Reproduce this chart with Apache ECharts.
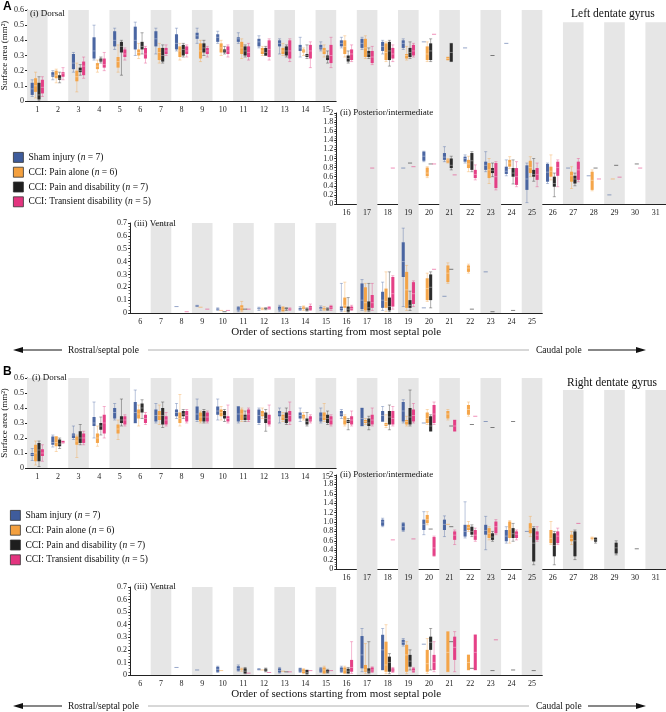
<!DOCTYPE html>
<html>
<head>
<meta charset="utf-8">
<script src="https://cdn.jsdelivr.net/npm/echarts@6/dist/echarts.min.js"></script>
<style>
  html, body { margin: 0; background: #fff; }
  #chart { width: 666px; height: 712px; }
</style>
</head>
<body>
<div id="chart"></div>
<script>
const GROUPS = [
  'Sham injury (n = 7)',
  'CCI: Pain alone (n = 6)',
  'CCI: Pain and disability (n = 7)',
  'CCI: Transient disability (n = 5)'
];
const COLORS = ['#3f5c9c', '#f4a03e', '#1e1e1e', '#e3347f'];
const FONT = 'Liberation Serif';

// section labels
const DORSAL_SECTIONS = ['1','2','3','4','5','6','7','8','9','10','11','12','13','14','15','16','17','18','19','20','21','22','23','24','25','26','27','28','29','30','31'];
const DORSAL_AXIS_SECTIONS = ['1','2','3','4','5','6','7','8','9','10','11','12','13','14','15'];
const POST_SECTIONS = ['16','17','18','19','20','21','22','23','24','25','26','27','28','29','30','31'];
const VENT_SECTIONS = ['6','7','8','9','10','11','12','13','14','15','16','17','18','19','20','21','22','23','24','25'];
const SHADED = [1,3,5,7,9,11,13,15,17,19,21,23,25,27,29,31];

// [section, min, q1, median, q3, max]  or  [section, value] for a single animal
// ---- A: left dentate gyrus ----
const dorsalA_sham = [[1,0.03,0.04,0.08,0.12,0.14],[2,0.14,0.16,0.17,0.19,0.20],[3,0.19,0.21,0.25,0.31,0.32],[4,0.27,0.28,0.33,0.42,0.50],[5,0.34,0.36,0.40,0.46,0.48],[6,0.30,0.34,0.40,0.49,0.52],[7,0.31,0.36,0.41,0.46,0.48],[8,0.33,0.34,0.38,0.44,0.48],[9,0.38,0.41,0.43,0.45,0.48],[10,0.38,0.39,0.42,0.44,0.46],[11,0.38,0.39,0.41,0.42,0.45],[12,0.35,0.36,0.39,0.41,0.43],[13,0.31,0.36,0.38,0.40,0.41],[14,0.29,0.33,0.35,0.37,0.42],[15,0.33,0.34,0.35,0.37,0.39],[16,0.35,0.36,0.38,0.40,0.42],[17,0.34,0.35,0.38,0.41,0.42],[18,0.31,0.33,0.36,0.39,0.40],[19,0.34,0.35,0.38,0.40,0.41],[20,0.39],[22,0.35],[24,0.38]];
const dorsalA_pain = [[1,0.02,0.06,0.10,0.15,0.19],[2,0.12,0.15,0.17,0.20,0.21],[3,0.06,0.13,0.16,0.20,0.25],[4,0.19,0.21,0.23,0.25,0.27],[5,0.19,0.22,0.26,0.29,0.37],[6,0.28,0.30,0.32,0.34,0.38],[7,0.25,0.27,0.32,0.35,0.38],[8,0.27,0.29,0.33,0.36,0.38],[9,0.26,0.28,0.33,0.38,0.40],[10,0.30,0.32,0.35,0.38,0.40],[11,0.28,0.31,0.35,0.39,0.41],[12,0.30,0.31,0.33,0.35,0.36],[13,0.30,0.31,0.33,0.35,0.38],[14,0.30,0.32,0.33,0.34,0.35],[15,0.29,0.31,0.33,0.35,0.37],[16,0.29,0.31,0.36,0.40,0.43],[17,0.28,0.29,0.35,0.41,0.43],[18,0.26,0.27,0.32,0.38,0.39],[19,0.27,0.28,0.30,0.31,0.36],[20,0.26,0.27,0.31,0.36,0.39],[21,0.27,0.27,0.28,0.29,0.29]];
const dorsalA_dis = [[1,0.0,0.01,0.04,0.12,0.16],[2,0.12,0.14,0.15,0.17,0.19],[3,0.17,0.19,0.20,0.22,0.24],[4,0.25,0.26,0.27,0.28,0.29],[5,0.17,0.32,0.36,0.39,0.40],[6,0.31,0.34,0.36,0.39,0.45],[7,0.25,0.26,0.30,0.35,0.37],[8,0.29,0.30,0.34,0.37,0.38],[9,0.30,0.32,0.35,0.38,0.40],[10,0.31,0.32,0.33,0.34,0.36],[11,0.29,0.30,0.33,0.36,0.37],[12,0.30,0.30,0.32,0.35,0.36],[13,0.29,0.30,0.33,0.36,0.37],[14,0.28,0.29,0.30,0.31,0.37],[15,0.25,0.27,0.29,0.30,0.33],[16,0.25,0.26,0.28,0.30,0.33],[17,0.28,0.29,0.31,0.33,0.35],[18,0.23,0.27,0.33,0.39,0.40],[19,0.28,0.29,0.32,0.35,0.39],[20,0.26,0.27,0.33,0.38,0.41],[21,0.26,0.26,0.32,0.38,0.38],[23,0.30]];
const dorsalA_trans = [[1,0.03,0.05,0.09,0.14,0.16],[2,0.14,0.16,0.18,0.19,0.22],[3,0.15,0.17,0.23,0.26,0.29],[4,0.20,0.22,0.24,0.28,0.32],[5,0.27,0.29,0.31,0.34,0.35],[6,0.25,0.28,0.31,0.35,0.36],[7,0.30,0.31,0.33,0.35,0.37],[8,0.29,0.31,0.33,0.36,0.37],[9,0.29,0.31,0.33,0.35,0.36],[10,0.29,0.31,0.33,0.36,0.37],[11,0.27,0.29,0.32,0.36,0.38],[12,0.27,0.29,0.34,0.40,0.41],[13,0.26,0.28,0.33,0.40,0.41],[14,0.22,0.28,0.33,0.37,0.39],[15,0.22,0.25,0.30,0.37,0.42],[16,0.26,0.27,0.31,0.34,0.37],[17,0.24,0.25,0.29,0.33,0.36],[18,0.26,0.28,0.31,0.35,0.37],[19,0.29,0.30,0.33,0.37,0.38],[20,0.44]];

const postA_sham = [[19,0.79],[20,0.93,0.95,1.05,1.15,1.16],[21,0.93,0.97,1.03,1.12,1.26],[22,0.90,0.93,1.0,1.04,1.08],[23,0.71,0.75,0.85,0.93,1.15],[24,0.62,0.66,0.72,0.82,0.97],[25,0.03,0.31,0.55,0.85,0.90],[26,0.45,0.49,0.70,0.88,0.90],[27,0.79],[28,0.62],[29,0.20]];
const postA_pain = [[20,0.58,0.61,0.68,0.80,0.82],[21,0.90,0.91,0.95,0.98,1.0],[22,0.71,0.79,0.88,0.97,1.05],[23,0.45,0.57,0.75,0.90,1.0],[24,0.78,0.82,0.90,0.97,1.04],[25,0.60,0.68,0.80,0.95,1.04],[26,0.53,0.60,0.72,0.82,1.08],[27,0.34,0.49,0.62,0.71,0.82],[28,0.29,0.31,0.52,0.71,0.75],[29,0.55]];
const postA_dis = [[19,0.90],[20,0.88],[21,0.75,0.79,0.85,1.0,1.05],[22,0.71,0.75,0.95,1.12,1.15],[23,0.60,0.68,0.74,0.79,0.90],[24,0.44,0.60,0.68,0.79,0.97],[25,0.50,0.60,0.65,0.75,1.0],[26,0.16,0.38,0.45,0.60,0.68],[27,0.40,0.45,0.55,0.62,0.68],[28,0.79],[29,0.85],[30,0.88]];
const postA_trans = [[17,0.79],[18,0.79],[19,0.82],[20,0.88],[21,0.64],[22,0.53,0.57,0.65,0.75,0.86],[23,0.31,0.35,0.60,0.90,0.93],[24,0.38,0.42,0.60,0.79,0.93],[25,0.38,0.53,0.65,0.79,0.90],[26,0.38,0.62,0.80,0.93,0.97],[27,0.49,0.53,0.75,0.93,1.0],[28,0.55],[29,0.59],[30,0.79]];

const ventA_sham = [[8,0.05],[9,0.05,0.05,0.055,0.06,0.06],[10,0.02,0.025,0.03,0.035,0.04],[11,0.01,0.02,0.03,0.045,0.05],[12,0.02,0.03,0.035,0.04,0.045],[13,0.01,0.02,0.03,0.05,0.06],[14,0.02,0.025,0.03,0.04,0.05],[15,0.02,0.03,0.035,0.045,0.055],[16,0.01,0.02,0.035,0.05,0.23],[17,0.02,0.03,0.10,0.23,0.26],[18,0.02,0.04,0.10,0.165,0.24],[19,0.05,0.28,0.40,0.55,0.66],[20,0.04],[21,0.13],[23,0.32]];
const ventA_pain = [[9,0.045],[10,0.02],[11,0.01,0.02,0.04,0.06,0.09],[12,0.025,0.03,0.03,0.035,0.04],[13,0.01,0.015,0.03,0.045,0.05],[14,0.02,0.03,0.04,0.05,0.055],[15,0.02,0.025,0.03,0.04,0.05],[16,0.01,0.04,0.06,0.12,0.24],[17,0.01,0.02,0.08,0.20,0.23],[18,0.01,0.04,0.09,0.19,0.32],[19,0.02,0.04,0.18,0.32,0.37],[20,0.09,0.10,0.19,0.27,0.31],[21,0.23,0.24,0.31,0.37,0.39],[22,0.31,0.32,0.35,0.37,0.38]];
const ventA_dis = [[10,0.01],[11,0.03],[12,0.025,0.03,0.035,0.04,0.04],[13,0.02,0.03,0.035,0.04,0.04],[14,0.015,0.02,0.03,0.035,0.04],[15,0.02,0.025,0.03,0.035,0.04],[16,0.005,0.01,0.03,0.05,0.12],[17,0.01,0.02,0.04,0.09,0.23],[18,0.01,0.02,0.05,0.12,0.32],[19,0.02,0.04,0.06,0.10,0.17],[20,0.04,0.10,0.20,0.30,0.32],[21,0.34],[22,0.03],[23,0.01],[24,0.02]];
const ventA_trans = [[8,0.01],[9,0.03],[10,0.02],[11,0.03],[12,0.03,0.03,0.035,0.045,0.05],[13,0.02,0.025,0.03,0.035,0.04],[14,0.02,0.025,0.04,0.055,0.07],[15,0.02,0.03,0.04,0.055,0.06],[16,0.02,0.025,0.035,0.05,0.06],[17,0.02,0.04,0.08,0.14,0.23],[18,0.03,0.05,0.15,0.28,0.29],[19,0.05,0.07,0.15,0.24,0.25],[20,0.34]];

// ---- B: right dentate gyrus ----
const dorsalB_sham = [[1,0.05,0.08,0.09,0.10,0.13],[2,0.14,0.155,0.17,0.21,0.22],[3,0.19,0.20,0.22,0.23,0.28],[4,0.20,0.28,0.30,0.34,0.44],[5,0.32,0.33,0.37,0.40,0.43],[6,0.30,0.30,0.37,0.44,0.52],[7,0.30,0.31,0.35,0.39,0.43],[8,0.33,0.345,0.37,0.39,0.43],[9,0.31,0.32,0.36,0.41,0.46],[10,0.32,0.355,0.38,0.41,0.46],[11,0.30,0.31,0.36,0.41,0.41],[12,0.29,0.30,0.35,0.39,0.40],[13,0.30,0.345,0.36,0.38,0.40],[14,0.31,0.33,0.35,0.37,0.40],[15,0.30,0.31,0.34,0.37,0.40],[16,0.33,0.345,0.36,0.38,0.39],[17,0.28,0.28,0.33,0.40,0.40],[18,0.31,0.31,0.35,0.38,0.41],[19,0.30,0.31,0.38,0.44,0.455],[20,0.30],[23,0.31]];
const dorsalB_pain = [[1,0.02,0.045,0.10,0.155,0.18],[2,0.11,0.145,0.17,0.21,0.21],[3,0.07,0.155,0.18,0.21,0.22],[4,0.145,0.167,0.20,0.23,0.28],[5,0.19,0.23,0.26,0.29,0.32],[6,0.28,0.33,0.36,0.39,0.42],[7,0.29,0.32,0.35,0.38,0.42],[8,0.28,0.30,0.33,0.37,0.49],[9,0.30,0.31,0.34,0.37,0.38],[10,0.32,0.345,0.37,0.39,0.41],[11,0.31,0.32,0.36,0.39,0.40],[12,0.33,0.345,0.36,0.38,0.40],[13,0.31,0.32,0.34,0.355,0.37],[14,0.32,0.33,0.34,0.355,0.37],[15,0.31,0.32,0.34,0.37,0.43],[16,0.28,0.29,0.32,0.345,0.355],[17,0.29,0.30,0.31,0.32,0.33],[18,0.27,0.28,0.29,0.30,0.355],[19,0.28,0.29,0.31,0.32,0.345],[20,0.29,0.30,0.33,0.37,0.39],[21,0.32,0.33,0.36,0.38,0.39],[22,0.345,0.355,0.39,0.42,0.44]];
const dorsalB_dis = [[1,0.01,0.045,0.12,0.167,0.18],[2,0.13,0.145,0.16,0.19,0.20],[3,0.155,0.167,0.20,0.245,0.29],[4,0.22,0.255,0.28,0.30,0.34],[5,0.28,0.30,0.32,0.345,0.46],[6,0.33,0.37,0.40,0.43,0.455],[7,0.27,0.29,0.35,0.40,0.44],[8,0.33,0.345,0.36,0.38,0.39],[9,0.30,0.31,0.34,0.38,0.39],[10,0.31,0.33,0.35,0.38,0.39],[11,0.31,0.32,0.34,0.355,0.38],[12,0.245,0.30,0.33,0.37,0.39],[13,0.29,0.30,0.33,0.37,0.40],[14,0.28,0.29,0.31,0.33,0.37],[15,0.29,0.30,0.33,0.355,0.38],[16,0.255,0.30,0.31,0.32,0.33],[17,0.255,0.28,0.30,0.33,0.345],[18,0.255,0.29,0.34,0.38,0.42],[19,0.28,0.29,0.34,0.40,0.52],[20,0.245,0.245,0.28,0.345,0.355],[21,0.28],[22,0.29],[23,0.27],[24,0.31]];
const dorsalB_trans = [[1,0.045,0.08,0.10,0.125,0.155],[2,0.165,0.167,0.17,0.18,0.18],[3,0.155,0.167,0.20,0.23,0.245],[4,0.20,0.23,0.30,0.355,0.41],[5,0.28,0.29,0.32,0.345,0.355],[6,0.29,0.30,0.33,0.355,0.37],[7,0.28,0.29,0.32,0.345,0.37],[8,0.30,0.31,0.35,0.38,0.39],[9,0.30,0.31,0.34,0.37,0.38],[10,0.30,0.31,0.33,0.345,0.42],[11,0.31,0.32,0.36,0.39,0.40],[12,0.28,0.29,0.32,0.355,0.42],[13,0.29,0.31,0.35,0.38,0.44],[14,0.30,0.31,0.32,0.345,0.355],[15,0.28,0.29,0.32,0.345,0.355],[16,0.28,0.29,0.32,0.345,0.38],[17,0.28,0.29,0.32,0.355,0.40],[18,0.28,0.29,0.33,0.38,0.41],[19,0.30,0.31,0.35,0.39,0.43],[20,0.29,0.30,0.36,0.42,0.44],[21,0.245,0.245,0.28,0.32,0.32],[22,0.345]];

const postB_sham = [[18,0.90,0.92,1.0,1.05,1.08],[19,0.80,0.82,0.90,0.975,0.99],[20,0.73,0.83,0.95,1.05,1.22],[21,0.69,0.83,0.95,1.05,1.13],[22,0.66,0.69,0.80,0.94,1.43],[23,0.41,0.73,0.82,0.94,1.12],[24,0.55,0.59,0.70,0.83,0.90],[25,0.80]];
const postB_pain = [[20,0.94,0.975,1.05,1.15,1.22],[21,0.95],[22,0.80,0.83,0.88,0.94,1.01],[23,0.62,0.66,0.76,0.87,0.90],[24,0.55,0.66,0.85,1.01,1.03],[25,0.69,0.76,0.85,0.975,1.12],[26,0.52,0.55,0.65,0.83,1.01],[27,0.52,0.59,0.65,0.73,0.80],[28,0.62,0.64,0.66,0.67,0.68]];
const postB_dis = [[20,0.85],[21,0.90],[22,0.69,0.73,0.80,0.90,0.94],[23,0.59,0.62,0.68,0.76,0.80],[24,0.59,0.66,0.75,0.87,0.97],[25,0.09,0.16,0.55,0.87,0.90],[26,0.09,0.27,0.50,0.76,0.80],[27,0.20,0.27,0.60,0.80,0.83],[28,0.55,0.58,0.62,0.66,0.67],[29,0.30,0.33,0.45,0.56,0.60],[30,0.43]];
const postB_trans = [[18,0.62],[19,0.64],[20,0.27,0.28,0.45,0.68,0.70],[21,0.52,0.62,0.72,0.80,0.83],[22,0.59,0.62,0.72,0.83,0.87],[23,0.73,0.76,0.90,1.01,1.05],[24,0.62,0.66,0.74,0.80,0.83],[25,0.59,0.62,0.72,0.80,0.90],[26,0.52,0.55,0.70,0.80,0.87],[27,0.97]];

const ventB_sham = [[8,0.06],[9,0.04],[10,0.02,0.025,0.045,0.065,0.07],[11,0.03,0.035,0.05,0.07,0.08],[12,0.04,0.04,0.045,0.05,0.05],[13,0.015,0.02,0.035,0.053,0.06],[14,0.02,0.026,0.04,0.053,0.055],[15,0.02,0.026,0.04,0.053,0.06],[16,0.02,0.026,0.04,0.06,0.07],[17,0.026,0.053,0.16,0.31,0.37],[18,0.04,0.04,0.20,0.32,0.37],[19,0.23,0.24,0.26,0.28,0.29],[20,0.245]];
const ventB_pain = [[10,0.035],[11,0.03,0.04,0.045,0.05,0.055],[12,0.04],[13,0.03],[14,0.01,0.015,0.03,0.045,0.05],[15,0.01,0.013,0.04,0.06,0.07],[16,0.01,0.013,0.04,0.06,0.07],[17,0.01,0.026,0.04,0.08,0.25],[18,0.01,0.026,0.08,0.265,0.40],[19,0.01,0.026,0.16,0.24,0.265],[20,0.013,0.026,0.09,0.20,0.29],[21,0.026,0.026,0.18,0.345,0.345],[22,0.04,0.04,0.10,0.16,0.16]];
const ventB_dis = [[11,0.01,0.013,0.03,0.053,0.06],[12,0.025,0.03,0.04,0.05,0.055],[13,0.025],[14,0.005,0.01,0.02,0.04,0.04],[15,0.015,0.02,0.03,0.04,0.045],[16,0.01,0.013,0.03,0.05,0.06],[17,0.01,0.018,0.03,0.053,0.265],[18,0.01,0.026,0.10,0.146,0.17],[19,0.04,0.066,0.11,0.16,0.20],[20,0.04,0.20,0.26,0.305,0.37],[21,0.265],[22,0.053],[23,0.035],[24,0.04],[25,0.035]];
const ventB_trans = [[11,0.015],[12,0.02],[13,0.025],[14,0.035],[15,0.035],[16,0.013,0.026,0.06,0.12,0.265],[17,0.02,0.026,0.04,0.06,0.065],[18,0.02,0.026,0.04,0.053,0.06],[19,0.02,0.026,0.035,0.053,0.06],[20,0.026,0.04,0.10,0.16,0.265],[21,0.026,0.12,0.22,0.305,0.345],[22,0.04,0.04,0.18,0.32,0.32],[23,0.28]];

// layout of the two panels (pixels)
const CAT_W = 639 / 31;
const X0 = 27;
const PANELS = [
  {
    letter: 'A', letterTop: 1, title: 'Left dentate gyrus', titleLeft: 571, titleTop: 8,
    dorsal: { top: 10, h: 91 }, post: { top: 113, h: 91 }, vent: { top: 223, h: 90 },
    legendLeft: 13, legendTop: 152, arrowY: 350,
    labels: { dorsal: [30, 9], post: [340, 108], vent: [134, 219] },
    data: {
      dorsal: [dorsalA_sham, dorsalA_pain, dorsalA_dis, dorsalA_trans],
      post: [postA_sham, postA_pain, postA_dis, postA_trans],
      vent: [ventA_sham, ventA_pain, ventA_dis, ventA_trans]
    }
  },
  {
    letter: 'B', letterTop: 366, title: 'Right dentate gyrus', titleLeft: 567, titleTop: 377,
    dorsal: { top: 378, h: 90 }, post: { top: 475, h: 94 }, vent: { top: 587, h: 88 },
    legendLeft: 10, legendTop: 510, arrowY: 706,
    labels: { dorsal: [32, 373], post: [340, 470], vent: [134, 582] },
    data: {
      dorsal: [dorsalB_sham, dorsalB_pain, dorsalB_dis, dorsalB_trans],
      post: [postB_sham, postB_pain, postB_dis, postB_trans],
      vent: [ventB_sham, ventB_pain, ventB_dis, ventB_trans]
    }
  }
];

const BAND = '#e6e6e6';
const labelStyle = { fontFamily: FONT, fontSize: 8, color: '#222' };
const lineStyle = { color: '#222', width: 1 };

function makeBox(g) {
  return function (params, api) {
    const cat = api.value(0);
    const band = api.size([1, 0])[0];
    const cx = api.coord([cat, 0])[0] + (g - 1.5) * band * 0.165;
    const w = band * 0.15;
    const col = COLORS[g];
    const yv = (i) => api.coord([cat, api.value(i)])[1];
    if (api.value(1) === api.value(5)) {
      const y = yv(3);
      return { type: 'line', shape: { x1: cx - w / 2 - 0.5, y1: y, x2: cx + w / 2 + 0.5, y2: y },
        style: { stroke: col, lineWidth: 1, opacity: 0.55 } };
    }
    const yMin = yv(1), yQ1 = yv(2), yMed = yv(3), yQ3 = yv(4), yMax = yv(5);
    const whisk = { stroke: col, lineWidth: 0.8, opacity: 0.45 };
    return {
      type: 'group',
      children: [
        { type: 'line', shape: { x1: cx, y1: yMax, x2: cx, y2: yMin }, style: whisk },
        { type: 'line', shape: { x1: cx - w / 2, y1: yMax, x2: cx + w / 2, y2: yMax }, style: whisk },
        { type: 'line', shape: { x1: cx - w / 2, y1: yMin, x2: cx + w / 2, y2: yMin }, style: whisk },
        { type: 'rect', shape: { x: cx - w / 2, y: yQ3, width: w, height: Math.max(1, yQ1 - yQ3) },
          style: { fill: col, opacity: 0.92 } },
        { type: 'line', shape: { x1: cx - w / 2, y1: yMed, x2: cx + w / 2, y2: yMed },
          style: { stroke: '#fff', lineWidth: 0.8, opacity: 0.45 } }
      ]
    };
  };
}

function boxSeries(g, rows, axisIndex, firstSection) {
  return {
    type: 'custom',
    name: GROUPS[g],
    xAxisIndex: axisIndex,
    yAxisIndex: axisIndex,
    itemStyle: { color: COLORS[g] },
    encode: { x: 0, y: [1, 2, 3, 4, 5] },
    silent: true,
    z: 3,
    data: rows.map(r => r.length === 2
      ? [r[0] - firstSection, r[1], r[1], r[1], r[1], r[1]]
      : [r[0] - firstSection, r[1], r[2], r[3], r[4], r[5]]),
    renderItem: makeBox(g)
  };
}

function bandSeries(axisIndex, sections, valueOf) {
  return {
    type: 'bar', xAxisIndex: axisIndex, yAxisIndex: axisIndex,
    barWidth: '100%', clip: false, silent: true, z: 0,
    itemStyle: { color: BAND },
    data: sections.map(s => SHADED.includes(+s) ? valueOf(+s) : null)
  };
}

const grid = [], xAxis = [], yAxis = [], series = [], legend = [], title = [], graphic = [];

PANELS.forEach((p, pi) => {
  const base = pi * 4;
  const iAxis = base, iFull = base + 1, iPost = base + 2, iVent = base + 3;

  grid.push(
    { left: X0, top: p.dorsal.top, width: 15 * CAT_W, height: p.dorsal.h, outerBoundsMode: 'none' },
    { left: X0, top: p.dorsal.top, width: 31 * CAT_W, height: p.dorsal.h, outerBoundsMode: 'none' },
    { left: X0 + 15 * CAT_W, top: p.post.top, width: 16 * CAT_W, height: p.post.h, outerBoundsMode: 'none' },
    { left: X0 + 5 * CAT_W, top: p.vent.top, width: 20 * CAT_W, height: p.vent.h, outerBoundsMode: 'none' }
  );

  xAxis.push(
    { gridIndex: iAxis, type: 'category', data: DORSAL_AXIS_SECTIONS, axisLine: { lineStyle },
      axisTick: { show: false }, axisLabel: { ...labelStyle, interval: 0, margin: 5 } },
    { gridIndex: iFull, type: 'category', data: DORSAL_SECTIONS, show: false },
    { gridIndex: iPost, type: 'category', data: POST_SECTIONS, axisLine: { lineStyle },
      axisTick: { show: false }, axisLabel: { ...labelStyle, interval: 0, margin: 5 } },
    { gridIndex: iVent, type: 'category', data: VENT_SECTIONS, axisLine: { lineStyle },
      axisTick: { show: false }, axisLabel: { ...labelStyle, interval: 0, margin: 5 },
      name: 'Order of sections starting from most septal pole', nameLocation: 'middle', nameGap: 12,
      nameTextStyle: { fontFamily: FONT, fontSize: 11, color: '#111' } }
  );

  const yCommon = {
    type: 'value', min: 0, splitLine: { show: false },
    axisLine: { show: true, lineStyle }, axisTick: { show: true, length: 2, lineStyle },
    axisLabel: { ...labelStyle, margin: 3 }
  };
  yAxis.push(
    { ...yCommon, gridIndex: iAxis, max: 0.6, interval: 0.1,
      name: 'Surface area (mm\u00b2)', nameLocation: 'middle', nameGap: 18, nameRotate: 90,
      nameTextStyle: { fontFamily: FONT, fontSize: 9, color: '#111' } },
    { gridIndex: iFull, type: 'value', min: 0, max: 0.6, show: false },
    { ...yCommon, gridIndex: iPost, max: 2, interval: 0.2,
      minorTick: { show: true, splitNumber: 4, length: 1.5, lineStyle: { color: '#666' } },
      axisLabel: { ...labelStyle, margin: 3, formatter: v => (v === 0 || v === 2) ? String(v) : v.toFixed(1) } },
    { ...yCommon, gridIndex: iVent, max: 0.7, interval: 0.1,
      minorTick: { show: true, splitNumber: 4, length: 1.5, lineStyle: { color: '#666' } } }
  );

  // grey shading of alternate sections; the lower subplots reach up to the one above
  const dorsalBottom = p.dorsal.top + p.dorsal.h;
  const postBottom = p.post.top + p.post.h;
  const ventBottom = p.vent.top + p.vent.h;
  const postReach = 2 * (postBottom - dorsalBottom) / p.post.h;
  const ventReach = 0.7 * (ventBottom - postBottom) / p.vent.h;
  series.push(
    bandSeries(iFull, DORSAL_SECTIONS, s => s >= 27 ? 0.52 : 0.6),
    bandSeries(iPost, POST_SECTIONS, () => postReach),
    bandSeries(iVent, VENT_SECTIONS, s => s >= 17 ? ventReach : 0.7)
  );

  for (let g = 0; g < 4; g++) {
    series.push(boxSeries(g, p.data.dorsal[g], iFull, 1));
    series.push(boxSeries(g, p.data.post[g], iPost, 16));
    series.push(boxSeries(g, p.data.vent[g], iVent, 6));
  }

  legend.push({
    orient: 'vertical', left: p.legendLeft, top: p.legendTop, padding: 0,
    itemWidth: 10, itemHeight: 10, itemGap: 4, icon: 'rect', selectedMode: false,
    itemStyle: { borderColor: '#333', borderWidth: 0.8 },
    data: GROUPS,
    formatter: n => n.replace('(n =', '({it|n} ='),
    textStyle: { fontFamily: FONT, fontSize: 9.5, color: '#111',
      rich: { it: { fontFamily: FONT, fontSize: 9.5, fontStyle: 'italic', color: '#111' } } }
  });

  const small = { fontFamily: FONT, fontSize: 9, fontWeight: 'normal', color: '#111' };
  title.push(
    { text: p.letter, left: 3, top: p.letterTop, padding: 0,
      textStyle: { fontFamily: 'Liberation Sans', fontSize: 12, fontWeight: 'bold', color: '#000' } },
    { text: p.title, left: p.titleLeft, top: p.titleTop, padding: 0,
      textStyle: { fontFamily: FONT, fontSize: 11.5, fontWeight: 'normal', color: '#111' } },
    { text: '(i) Dorsal', left: p.labels.dorsal[0], top: p.labels.dorsal[1], padding: 0, textStyle: small },
    { text: '(ii) Posterior/intermediate', left: p.labels.post[0], top: p.labels.post[1], padding: 0, textStyle: small },
    { text: '(iii) Ventral', left: p.labels.vent[0], top: p.labels.vent[1], padding: 0, textStyle: small }
  );

  const y = p.arrowY;
  const txt = { font: '9.5px "Liberation Serif"', fill: '#111', verticalAlign: 'middle' };
  graphic.push(
    { type: 'line', shape: { x1: 20, y1: y, x2: 62, y2: y }, style: { stroke: '#111', lineWidth: 1.2 } },
    { type: 'polygon', shape: { points: [[13, y], [23, y - 3], [23, y + 3]] }, style: { fill: '#111' } },
    { type: 'text', x: 68, y: y, style: { text: 'Rostral/septal pole', ...txt } },
    { type: 'line', shape: { x1: 148, y1: y, x2: 529, y2: y }, style: { stroke: '#b0b0b0', lineWidth: 1 } },
    { type: 'text', x: 536, y: y, style: { text: 'Caudal pole', ...txt } },
    { type: 'line', shape: { x1: 588, y1: y, x2: 638, y2: y }, style: { stroke: '#111', lineWidth: 1.2 } },
    { type: 'polygon', shape: { points: [[646, y], [636, y - 3], [636, y + 3]] }, style: { fill: '#111' } }
  );
});

const chart = echarts.init(document.getElementById('chart'), null, { renderer: 'canvas' });
chart.setOption({
  animation: false,
  backgroundColor: '#fff',
  title, legend, grid, xAxis, yAxis, series, graphic
});
</script>
</body>
</html>
